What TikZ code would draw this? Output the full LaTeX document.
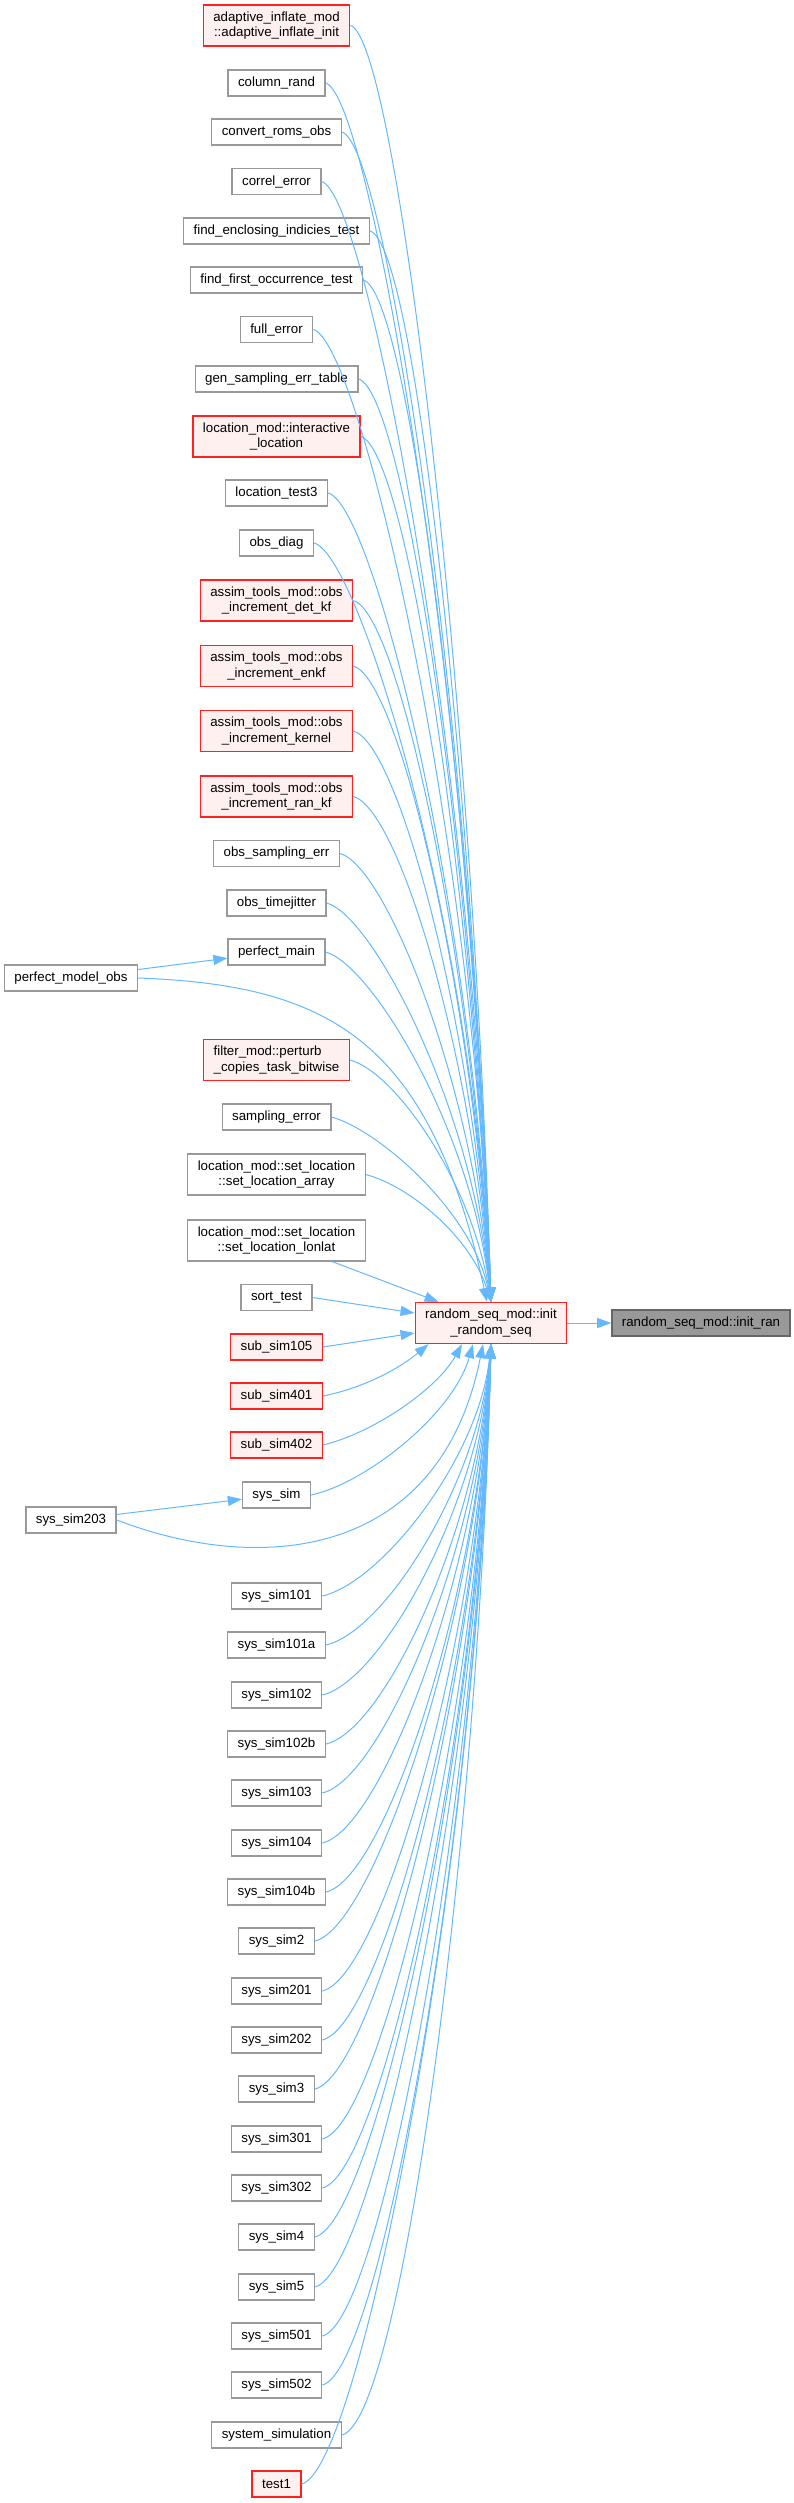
\documentclass[tikz,border=0pt]{standalone}
\usepackage{fontspec}
\setmainfont{Liberation Sans}
\usepackage{tikz}
\usepackage{xcolor}
\usetikzlibrary{arrows.meta, calc}
\definecolor{cEdge}{HTML}{63B8FF}
\definecolor{cBorder}{HTML}{999999}
\definecolor{cRedB}{HTML}{FF2020}
\definecolor{cRedF}{HTML}{FFF0F0}
\definecolor{cRootF}{HTML}{999999}
\definecolor{cRootB}{HTML}{666666}
\tikzset{
	fnbox/.style ={rectangle, draw=cBorder, line width=1.3pt, fill=white, minimum height=26pt, inner xsep=10pt, inner ysep=3pt, align=center},
	fnred/.style ={fnbox, draw=cRedB, fill=cRedF},
	fnroot/.style={fnbox, draw=cRootB, fill=cRootF},
	two/.style   ={minimum height=41pt},
	% caller edges
	call/.style  ={draw=cEdge, line width=1pt, -{Triangle[length=14pt, width=10pt]}},
}
\begin{document}
\begin{tikzpicture}[x=1pt, y=-1pt, font=\fontsize{13.3pt}{15.3pt}\selectfont]
	\useasboundingbox (0,0) rectangle (794,2503);
	% callee and target
	\node[fnred, two] (initrs) at (491,1323) {random\_seq\_mod::init\\\_random\_seq};
	\node[fnroot] (initran) at (701,1323) {random\_seq\_mod::init\_ran};
	% callers above
	\node[fnred, two] (adaptinit) at (276.5,25.5) {adaptive\_inflate\_mod\\::adaptive\_inflate\_init};
	\node[fnbox] (colrand) at (276.5,83) {column\_rand};
	\node[fnbox] (convroms) at (276.5,132) {convert\_roms\_obs};
	\node[fnbox] (correrr) at (276.5,181.5) {correl\_error};
	\node[fnbox] (findencl) at (276.5,231) {find\_enclosing\_indicies\_test};
	\node[fnbox] (findfirst) at (276.5,280) {find\_first\_occurrence\_test};
	\node[fnbox] (fullerr) at (276.5,329.5) {full\_error};
	\node[fnbox] (gensamp) at (276.5,379) {gen\_sampling\_err\_table};
	\node[fnred, two] (interloc) at (276.5,436.5) {location\_mod::interactive\\\_location};
	\node[fnbox] (loctest3) at (276.5,493) {location\_test3};
	\node[fnbox] (obsdiag) at (276.5,543) {obs\_diag};
	\node[fnred, two] (incdetkf) at (276.5,600.5) {assim\_tools\_mod::obs\\\_increment\_det\_kf};
	\node[fnred, two] (incenkf) at (276.5,666) {assim\_tools\_mod::obs\\\_increment\_enkf};
	\node[fnred, two] (inckernel) at (276.5,731) {assim\_tools\_mod::obs\\\_increment\_kernel};
	\node[fnred, two] (incrankf) at (276.5,796.5) {assim\_tools\_mod::obs\\\_increment\_ran\_kf};
	\node[fnbox] (obssamp) at (276.5,853.5) {obs\_sampling\_err};
	\node[fnbox] (obsjitter) at (276.5,903) {obs\_timejitter};
	\node[fnbox] (perfmain) at (276.5,952) {perfect\_main};
	\node[fnbox] (perfobs) at (71,978) {perfect\_model\_obs};
	\node[fnred, two, align=left] (perturb) at (276.5,1060) {filter\_mod::perturb\\\_copies\_task\_bitwise};
	\node[fnbox] (samperr) at (276.5,1117) {sampling\_error};
	\node[fnbox, two] (setarray) at (276.5,1174.5) {location\_mod::set\_location\\::set\_location\_array};
	\node[fnbox, two] (setlonlat) at (276.5,1240.5) {location\_mod::set\_location\\::set\_location\_lonlat};
	\node[fnbox] (sorttest) at (276.5,1297.5) {sort\_test};
	\node[fnred] (sub105) at (276.5,1347) {sub\_sim105};
	\node[fnred] (sub401) at (276.5,1396) {sub\_sim401};
	\node[fnred] (sub402) at (276.5,1445) {sub\_sim402};
	\node[fnbox] (syssim) at (276.5,1495) {sys\_sim};
	\node[fnbox] (sim203) at (71,1520) {sys\_sim203};
	% callers below
	\node[fnbox] (sim101) at (276.5,1596) {sys\_sim101};
	\node[fnbox] (sim101a) at (276.5,1645) {sys\_sim101a};
	\node[fnbox] (sim102) at (276.5,1695) {sys\_sim102};
	\node[fnbox] (sim102b) at (276.5,1744) {sys\_sim102b};
	\node[fnbox] (sim103) at (276.5,1793) {sys\_sim103};
	\node[fnbox] (sim104) at (276.5,1843) {sys\_sim104};
	\node[fnbox] (sim104b) at (276.5,1892) {sys\_sim104b};
	\node[fnbox] (sim2) at (276.5,1941) {sys\_sim2};
	\node[fnbox] (sim201) at (276.5,1991) {sys\_sim201};
	\node[fnbox] (sim202) at (276.5,2040) {sys\_sim202};
	\node[fnbox] (sim3) at (276.5,2089) {sys\_sim3};
	\node[fnbox] (sim301) at (276.5,2139) {sys\_sim301};
	\node[fnbox] (sim302) at (276.5,2188) {sys\_sim302};
	\node[fnbox] (sim4) at (276.5,2237) {sys\_sim4};
	\node[fnbox] (sim5) at (276.5,2287) {sys\_sim5};
	\node[fnbox] (sim501) at (276.5,2336) {sys\_sim501};
	\node[fnbox] (sim502) at (276.5,2385) {sys\_sim502};
	\node[fnbox] (syssimul) at (276.5,2435) {system\_simulation};
	\node[fnred] (test1) at (276.5,2484) {test1};
	% edges
	\foreach \n in {adaptinit,colrand,convroms,correrr,findencl,findfirst,fullerr,gensamp,interloc,loctest3,obsdiag,incdetkf,incenkf,inckernel,incrankf,obssamp,obsjitter,perfmain,perturb,samperr,setarray}
		\draw[call] (\n.east) .. controls +(45,12) and ($(initrs.north)!0.5!(initrs.north |- \n.east) + (-20,0)$) .. (initrs.north);
	\foreach \n in {sim101,sim101a,sim102,sim102b,sim103,sim104,sim104b,sim2,sim201,sim202,sim3,sim301,sim302,sim4,sim5,sim501,sim502,syssimul,test1}
		\draw[call] (\n.east) .. controls +(60,-14) and ($(initrs.south)!0.45!(initrs.south |- \n.east) + (-12,0)$) .. (initrs.south);
	\draw[call] (perfobs) -- (perfmain);
	\draw[call] (perfobs.east) .. controls (330,985) and (430,1040) .. ($(initrs.north)+(-4,0)$);
	\draw[call] (setlonlat) -- ($(initrs.north west)+(24,0)$);
	\draw[call] (sorttest.east) -- ($(initrs.west)+(0,-10)$);
	\draw[call] (sub105.east) -- ($(initrs.west)+(0,10)$);
	\draw[call] (sub401.east) .. controls +(40,-8) and +(-30,25) .. ($(initrs.south west)+(14,0)$);
	\draw[call] (sub402.east) .. controls +(50,-12) and +(-25,45) .. ($(initrs.south)+(-29,0)$);
	\draw[call] (syssim.east) .. controls +(55,-12) and +(-20,70) .. ($(initrs.south)+(-18,0)$);
	\draw[call] (sim203) -- (syssim);
	\draw[call] (sim203.east) .. controls (260,1575) and (440,1560) .. ($(initrs.south)+(-8,0)$);
	\draw[call] (initrs) -- (initran);
\end{tikzpicture}
\end{document}
